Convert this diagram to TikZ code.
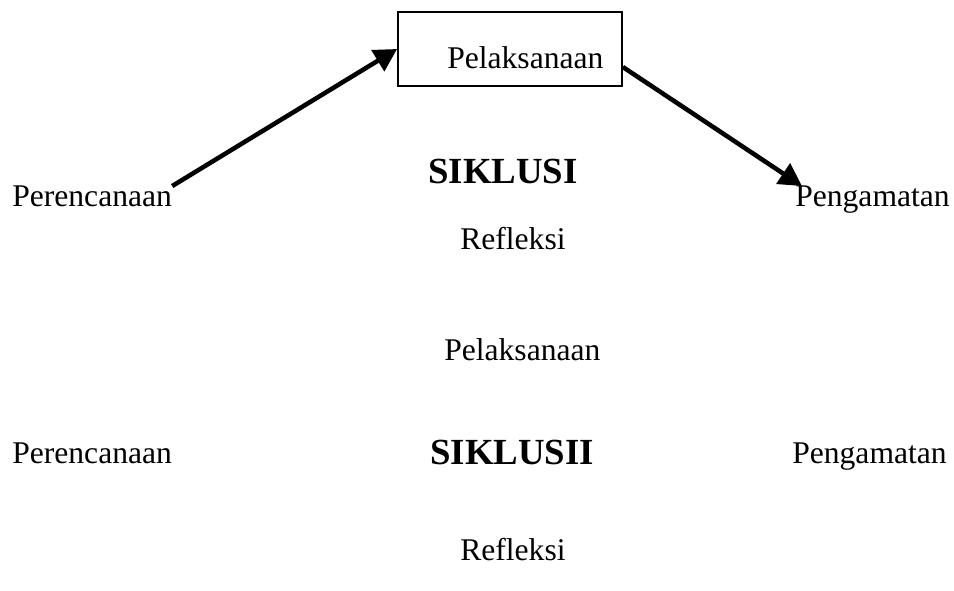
\documentclass[tikz,border=0pt]{standalone}
\usepackage{fontspec}
\setmainfont{Liberation Serif}
\usetikzlibrary{arrows.meta,calc}
\tikzset{
  lbl/.style={anchor=base west, inner sep=0pt, font=\fontsize{23.7pt}{28pt}\selectfont},
  ttl/.style={anchor=base west, inner sep=0pt, font=\fontsize{27.6pt}{33pt}\selectfont\bfseries},
  boxed/.style={draw, line width=1.3pt, minimum width=168pt, minimum height=55.5pt, inner sep=0pt},
  arr/.style={line width=3.4pt, -{Triangle[length=17pt,width=18pt]}}
}
\begin{document}
\begin{tikzpicture}[x=0.75pt,y=-0.75pt]
\useasboundingbox (0,0) rectangle (954,591);
% Siklus I
\node[boxed] (box) at (510,49) {};
\node[lbl] (pel1) at (447,69) {Pelaksanaan};
\node[lbl] (per1) at (12,207) {Perencanaan};
\node[ttl] (sik1) at (428,184) {SIKLUSI};
\node[lbl] (peng1) at (795,207) {Pengamatan};
\node[lbl] (ref1) at (460,250) {Refleksi};
\draw[arr] (per1.north east) -- (box.west);
\draw[arr] ($(box.east)+(0,18)$) -- ($(peng1.north west)+(7,0)$);
% Siklus II
\node[lbl] (pel2) at (444,361) {Pelaksanaan};
\node[lbl] (per2) at (12,464) {Perencanaan};
\node[ttl] (sik2) at (430,465) {SIKLUSII};
\node[lbl] (peng2) at (792,464) {Pengamatan};
\node[lbl] (ref2) at (460,561) {Refleksi};
\end{tikzpicture}
\end{document}
